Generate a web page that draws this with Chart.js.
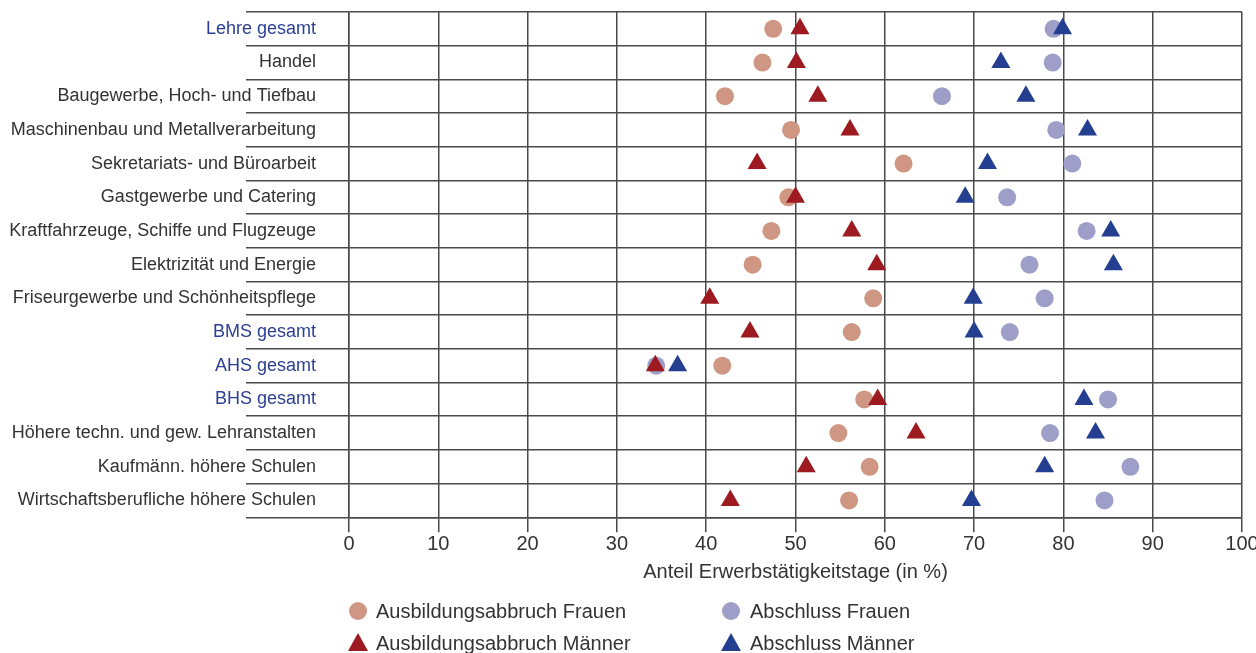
<!DOCTYPE html>
<html><head><meta charset="utf-8">
<script src="https://cdn.jsdelivr.net/npm/chart.js@4"></script>
<style>
html,body{margin:0;padding:0;background:#fff;}
#wrap{position:relative;width:1256px;height:653px;overflow:hidden;}
#c{position:absolute;left:0;top:0;}
.lg{position:absolute;font:20px "Liberation Sans",Arial,sans-serif;color:#333;white-space:nowrap;line-height:24px;height:24px;}
.mk{position:absolute;}
</style></head><body>
<div id="wrap"><canvas id="c" width="1256" height="653"></canvas></div>
<script>
const categories = ["Lehre gesamt","Handel","Baugewerbe, Hoch- und Tiefbau","Maschinenbau und Metallverarbeitung","Sekretariats- und Büroarbeit","Gastgewerbe und Catering","Kraftfahrzeuge, Schiffe und Flugzeuge","Elektrizität und Energie","Friseurgewerbe und Schönheitspflege","BMS gesamt","AHS gesamt","BHS gesamt","Höhere techn. und gew. Lehranstalten","Kaufmänn. höhere Schulen","Wirtschaftsberufliche höhere Schulen"];
const highlighted = ["Lehre gesamt","BMS gesamt","AHS gesamt","BHS gesamt"];
const abbruchFrauen   = [47.5,46.3,42.1,49.5,62.1,49.2,47.3,45.2,58.7,56.3,41.8,57.7,54.8,58.3,56.0];
const abbruchMaenner  = [50.5,50.1,52.5,56.1,45.7,50.0,56.3,59.1,40.4,44.9,34.3,59.2,63.5,51.2,42.7];
const abschlussFrauen = [78.9,78.8,66.4,79.2,81.0,73.7,82.6,76.2,77.9,74.0,34.4,85.0,78.5,87.5,84.6];
const abschlussMaenner= [79.9,73.0,75.8,82.7,71.5,69.0,85.3,85.6,69.9,70.0,36.8,82.3,83.6,77.9,69.7];
const xTicks = [0,10,20,30,40,50,60,70,80,90,100];
const xTitle = "Anteil Erwerbstätigkeitstage (in %)";
const seriesNames = ["Ausbildungsabbruch Frauen","Abschluss Frauen","Ausbildungsabbruch Männer","Abschluss Männer"];

const FAM = '"Liberation Sans", Arial, sans-serif';
const GRID = '#4a4a4a';
const colAF = '#cf9683', colABF = '#9e9ec9', colAM = '#9c1a20', colABM = '#243f8f';

function ds(label, data, color, style, r, order){
  return {label, data, showLine:false, pointStyle:style, pointRadius:r, pointHoverRadius:r,
    pointBackgroundColor:color, pointBorderColor:color, pointBorderWidth:0, pointHoverBorderWidth:0,
    backgroundColor:color, borderColor:color, order};
}
const datasets = [
  ds(seriesNames[0], abbruchFrauen, colAF, 'circle', 9, 2),
  ds(seriesNames[1], abschlussFrauen, colABF, 'circle', 9, 2),
  ds(seriesNames[2], abbruchMaenner, colAM, 'triangle', 11, 1),
  ds(seriesNames[3], abschlussMaenner, colABM, 'triangle', 11, 0)
];

new Chart(document.getElementById('c'), {
  type:'line',
  data:{labels:categories, datasets},
  options:{
    indexAxis:'y', responsive:false, animation:false, devicePixelRatio:1,
    layout:{padding:{top:12,right:14,bottom:69,left:0}},
    plugins:{legend:{display:false}, tooltip:{enabled:false}},
    events:[],
    scales:{
      x:{type:'linear', position:'bottom', min:0, max:100,
        afterBuildTicks:s=>{s.ticks = xTicks.map(v=>({value:v}));},
        grid:{color:GRID, lineWidth:1.5, tickLength:15, tickColor:GRID},
        border:{color:GRID, width:1.5},
        ticks:{padding:0, font:{family:FAM,size:20}, color:'#333', maxRotation:0, autoSkip:false},
        title:{display:true, text:xTitle, font:{family:FAM,size:20}, color:'#333', padding:{top:4,bottom:0}},
        afterFit:s=>{s.height=66.7; s.paddingLeft=0; s.paddingRight=0;}
      },
      y:{type:'category', position:'left', offset:true,
        grid:{offset:true, color:GRID, lineWidth:1.5, tickLength:103, tickColor:GRID},
        border:{color:GRID, width:1.5},
        ticks:{padding:-70, autoSkip:false, font:{family:FAM,size:18},
          color:ctx=> highlighted.includes(categories[ctx.index]) ? '#2b3f93' : '#333'},
        afterFit:s=>{s.width=349; s.paddingTop=0; s.paddingBottom=0;}
      }
    }
  }
});

// HTML legend
const wrap = document.getElementById('wrap');
const legendPos = [
  {mx:358, tx:376, cy:611, color:colAF, shape:'circle', name:seriesNames[0]},
  {mx:731, tx:750, cy:611, color:colABF, shape:'circle', name:seriesNames[1]},
  {mx:358, tx:376, cy:643, color:colAM, shape:'triangle', name:seriesNames[2]},
  {mx:731, tx:750, cy:643, color:colABM, shape:'triangle', name:seriesNames[3]}
];
legendPos.forEach(it=>{
  const m = document.createElement('div');
  m.className='mk';
  if(it.shape==='circle'){
    Object.assign(m.style,{left:(it.mx-9)+'px',top:(it.cy-9)+'px',width:'18px',height:'18px',borderRadius:'50%',background:it.color});
  } else {
    Object.assign(m.style,{left:(it.mx-10)+'px',top:(it.cy-10)+'px',width:'20px',height:'18px',background:it.color,clipPath:'polygon(50% 0,100% 100%,0 100%)'});
  }
  wrap.appendChild(m);
  const t = document.createElement('div');
  t.className='lg'; t.textContent=it.name;
  t.style.left=it.tx+'px'; t.style.top=(it.cy-12)+'px';
  wrap.appendChild(t);
});
</script>
</body></html>
